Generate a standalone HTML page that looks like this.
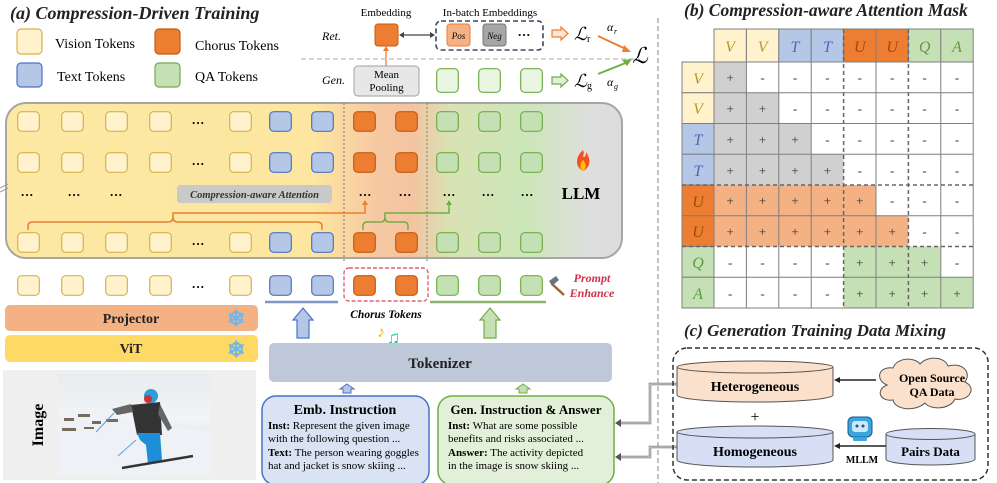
<!DOCTYPE html>
<html><head><meta charset="utf-8"><style>
html,body{margin:0;padding:0;background:#fff;}
svg{display:block;font-family:"Liberation Serif",serif;}
</style></head><body>
<svg width="997" height="483" viewBox="0 0 997 483" xmlns="http://www.w3.org/2000/svg">
<defs>
<linearGradient id="llm" x1="6" x2="622" y1="0" y2="0" gradientUnits="userSpaceOnUse">
<stop offset="0" stop-color="#fde9a3"/><stop offset="0.5" stop-color="#fce6a0"/>
<stop offset="0.6" stop-color="#f7c9a2"/><stop offset="0.66" stop-color="#f3c4a0"/>
<stop offset="0.72" stop-color="#d9e2b4"/><stop offset="0.84" stop-color="#cce6b8"/>
<stop offset="0.95" stop-color="#dedede"/><stop offset="1" stop-color="#dcdcdc"/>
</linearGradient>
<linearGradient id="sky" x1="0" y1="0" x2="0" y2="1"><stop offset="0" stop-color="#e8ecef"/><stop offset="0.45" stop-color="#f2f4f6"/><stop offset="0.6" stop-color="#e4e9ef"/><stop offset="1" stop-color="#d3dbe5"/></linearGradient>
<symbol id="tv" viewBox="0 0 23 21"><rect x="0.7" y="0.7" width="21.6" height="19.6" rx="4" fill="#fff2cc" stroke="#d6b24c" stroke-width="1.2"/></symbol>
<symbol id="tt" viewBox="0 0 23 21"><rect x="0.7" y="0.7" width="21.6" height="19.6" rx="4" fill="#b4c7e7" stroke="#4a72c4" stroke-width="1.2"/></symbol>
<symbol id="tc" viewBox="0 0 23 21"><rect x="0.7" y="0.7" width="21.6" height="19.6" rx="4" fill="#ed7d31" stroke="#c55a11" stroke-width="1.2"/></symbol>
<symbol id="tq" viewBox="0 0 23 21"><rect x="0.7" y="0.7" width="21.6" height="19.6" rx="4" fill="#c5e0b4" stroke="#70ad47" stroke-width="1.2"/></symbol>
<symbol id="tql" viewBox="0 0 23 25"><rect x="0.7" y="0.7" width="21.6" height="23.6" rx="4" fill="#eaf5e2" stroke="#70ad47" stroke-width="1.2"/></symbol>
</defs>

<line x1="658" y1="18" x2="658" y2="483" stroke="#b0b0b0" stroke-width="1.5" stroke-dasharray="5,3"/>

<text x="10" y="19" font-size="18" font-style="italic" font-weight="bold" fill="#222">(a) Compression-Driven Training</text>

<rect x="17" y="29" width="25" height="25" rx="4" fill="#fff2cc" stroke="#d6b24c" stroke-width="1.2"/>
<text x="55" y="48" font-size="14">Vision Tokens</text>
<rect x="17" y="63" width="25" height="24" rx="4" fill="#b4c7e7" stroke="#4a72c4" stroke-width="1.2"/>
<text x="57" y="81" font-size="14">Text Tokens</text>
<rect x="155" y="29" width="25" height="25" rx="4" fill="#ed7d31" stroke="#c55a11" stroke-width="1.2"/>
<text x="195" y="50" font-size="14">Chorus Tokens</text>
<rect x="155" y="63" width="25" height="24" rx="4" fill="#c5e0b4" stroke="#70ad47" stroke-width="1.2"/>
<text x="195" y="81" font-size="14">QA Tokens</text>

<text x="386" y="16" font-size="11" text-anchor="middle">Embedding</text>
<text x="490" y="16" font-size="11" text-anchor="middle">In-batch Embeddings</text>
<text x="322" y="40" font-size="12" font-style="italic">Ret.</text>
<text x="322" y="84" font-size="12" font-style="italic">Gen.</text>
<rect x="375" y="24" width="23" height="22" rx="3" fill="#ed7d31" stroke="#c55a11"/>
<line x1="386" y1="66" x2="386" y2="50" stroke="#ed7d31" stroke-width="1.3"/>
<polygon points="383,51 389,51 386,46" fill="#ed7d31"/>
<line x1="404" y1="35" x2="430" y2="35" stroke="#444" stroke-width="1.3"/>
<polygon points="404,32 404,38 399,35" fill="#444"/><polygon points="430,32 430,38 435,35" fill="#444"/>
<rect x="436" y="21" width="107" height="29" rx="5" fill="none" stroke="#3c4a60" stroke-width="1.6" stroke-dasharray="5,3"/>
<rect x="447" y="24" width="23" height="22" rx="3" fill="#f4b183" stroke="#ed7d31"/>
<text x="458.5" y="39" font-size="9" font-style="italic" text-anchor="middle">Pos</text>
<rect x="483" y="24" width="23" height="22" rx="3" fill="#a6a6a6" stroke="#777"/>
<text x="494.5" y="39" font-size="9" font-style="italic" text-anchor="middle">Neg</text>
<text x="524" y="39" font-size="13" font-weight="bold" text-anchor="middle">···</text>
<polygon points="552,30 561,30 561,27 568,33.5 561,40 561,37 552,37" fill="#fce4d6" stroke="#ed7d31" stroke-width="1.2"/>
<text x="574" y="40" font-size="18" font-style="italic">ℒ</text><text x="587" y="42" font-size="10">r</text>
<text x="607" y="31" font-size="12" font-style="italic">α</text><text x="614" y="34" font-size="8" font-style="italic">r</text>
<line x1="598" y1="36" x2="628" y2="50" stroke="#ed7d31" stroke-width="2"/><polygon points="624,45 631,52 622,52" fill="#ed7d31"/>
<text x="632" y="63" font-size="22" font-style="italic">ℒ</text>
<line x1="301" y1="59" x2="640" y2="59" stroke="#c8c8c8" stroke-width="1.5" stroke-dasharray="5,3"/>
<line x1="598" y1="74" x2="628" y2="62" stroke="#70ad47" stroke-width="2"/><polygon points="622,60 632,59 627,66" fill="#70ad47"/>
<text x="607" y="86" font-size="12" font-style="italic">α</text><text x="614" y="89" font-size="8" font-style="italic">g</text>
<rect x="354" y="66" width="65" height="30" rx="4" fill="#e7e7e7" stroke="#a0a0a0"/>
<text x="386.5" y="78" font-size="11" text-anchor="middle">Mean</text>
<text x="386.5" y="91" font-size="11" text-anchor="middle">Pooling</text>
<use href="#tql" x="436" y="68" width="23" height="25"/>
<use href="#tql" x="478" y="68" width="23" height="25"/>
<use href="#tql" x="520" y="68" width="23" height="25"/>
<polygon points="552,77 561,77 561,74 568,80.5 561,87 561,84 552,84" fill="#e2f0d9" stroke="#70ad47" stroke-width="1.2"/>
<text x="574" y="87" font-size="18" font-style="italic">ℒ</text><text x="587" y="89" font-size="10">g</text>

<rect x="6" y="103" width="616" height="155" rx="20" fill="url(#llm)" stroke="#a6a6a6" stroke-width="2"/>
<line x1="344" y1="103" x2="344" y2="262" stroke="#777" stroke-width="1" stroke-dasharray="2,2"/>
<line x1="427" y1="103" x2="427" y2="262" stroke="#777" stroke-width="1" stroke-dasharray="2,2"/>
<line x1="0" y1="188" x2="8" y2="184" stroke="#999" stroke-width="1"/><line x1="0" y1="192" x2="8" y2="188" stroke="#999" stroke-width="1"/>

<g>
<use href="#tv" x="17" y="111" width="23" height="21"/><use href="#tv" x="61" y="111" width="23" height="21"/><use href="#tv" x="105" y="111" width="23" height="21"/><use href="#tv" x="149" y="111" width="23" height="21"/><use href="#tv" x="229" y="111" width="23" height="21"/><use href="#tt" x="269" y="111" width="23" height="21"/><use href="#tt" x="311" y="111" width="23" height="21"/><use href="#tc" x="353" y="111" width="23" height="21"/><use href="#tc" x="395" y="111" width="23" height="21"/><use href="#tq" x="436" y="111" width="23" height="21"/><use href="#tq" x="478" y="111" width="23" height="21"/><use href="#tq" x="520" y="111" width="23" height="21"/>
<use href="#tv" x="17" y="152" width="23" height="21"/><use href="#tv" x="61" y="152" width="23" height="21"/><use href="#tv" x="105" y="152" width="23" height="21"/><use href="#tv" x="149" y="152" width="23" height="21"/><use href="#tv" x="229" y="152" width="23" height="21"/><use href="#tt" x="269" y="152" width="23" height="21"/><use href="#tt" x="311" y="152" width="23" height="21"/><use href="#tc" x="353" y="152" width="23" height="21"/><use href="#tc" x="395" y="152" width="23" height="21"/><use href="#tq" x="436" y="152" width="23" height="21"/><use href="#tq" x="478" y="152" width="23" height="21"/><use href="#tq" x="520" y="152" width="23" height="21"/>
<use href="#tv" x="17" y="232" width="23" height="21"/><use href="#tv" x="61" y="232" width="23" height="21"/><use href="#tv" x="105" y="232" width="23" height="21"/><use href="#tv" x="149" y="232" width="23" height="21"/><use href="#tv" x="229" y="232" width="23" height="21"/><use href="#tt" x="269" y="232" width="23" height="21"/><use href="#tt" x="311" y="232" width="23" height="21"/><use href="#tc" x="353" y="232" width="23" height="21"/><use href="#tc" x="395" y="232" width="23" height="21"/><use href="#tq" x="436" y="232" width="23" height="21"/><use href="#tq" x="478" y="232" width="23" height="21"/><use href="#tq" x="520" y="232" width="23" height="21"/>
</g>
<g font-size="13" font-weight="bold" text-anchor="middle">
<text x="198" y="127">···</text><text x="198" y="168">···</text><text x="198" y="248">···</text>
<text x="27" y="199">···</text><text x="74" y="199">···</text><text x="116" y="199">···</text>
<text x="365" y="199">···</text><text x="405" y="199">···</text><text x="449" y="199">···</text><text x="488" y="199">···</text><text x="527" y="199">···</text>
</g>
<rect x="177" y="185" width="155" height="18" rx="3" fill="#c9c9c9"/>
<text x="254.5" y="198" font-size="10.5" font-style="italic" font-weight="bold" text-anchor="middle" fill="#333">Compression-aware Attention</text>
<path d="M28,230 L28,226 Q28,222 33,222 L168,222 Q173,222 173,217 Q173,222 178,222 L317,222 Q322,222 322,226 L322,230" fill="none" stroke="#ed7d31" stroke-width="1.5"/>
<path d="M173,217 L173,213 L365,213 L365,204" fill="none" stroke="#ed7d31" stroke-width="1.5"/>
<polygon points="362,205 368,205 365,200" fill="#ed7d31"/>
<path d="M363,230 L363,226 Q363,222 367,222 L381,222 Q385,222 385,217 Q385,222 389,222 L404,222 Q408,222 408,226 L408,230" fill="none" stroke="#70ad47" stroke-width="1.5"/>
<path d="M385,217 L385,213 L449,213 L449,204" fill="none" stroke="#70ad47" stroke-width="1.5"/>
<polygon points="446,205 452,205 449,200" fill="#70ad47"/>
<path d="M583,150 C575,157 575,167 583,171 C591,167 591,159 586,152 C586,157 584,158 583,156 C584,154 584,152 583,150Z" fill="#f4511e"/>
<path d="M583,171 C579,168 580,163 583,160 C586,163 587,168 583,171Z" fill="#ffc107"/>
<text x="581" y="199" font-size="17" font-weight="bold" text-anchor="middle">LLM</text>

<use href="#tv" x="17" y="274" width="23" height="23"/><use href="#tv" x="61" y="274" width="23" height="23"/><use href="#tv" x="105" y="274" width="23" height="23"/><use href="#tv" x="149" y="274" width="23" height="23"/><use href="#tv" x="229" y="274" width="23" height="23"/>
<text x="198" y="291" font-size="13" font-weight="bold" text-anchor="middle">···</text>
<use href="#tt" x="269" y="274" width="23" height="23"/><use href="#tt" x="311" y="274" width="23" height="23"/>
<rect x="344" y="268" width="84" height="33" rx="5" fill="none" stroke="#e06070" stroke-width="1.4" stroke-dasharray="4,2"/>
<use href="#tc" x="353" y="274" width="23" height="23"/><use href="#tc" x="395" y="274" width="23" height="23"/>
<use href="#tq" x="436" y="274" width="23" height="23"/><use href="#tq" x="478" y="274" width="23" height="23"/><use href="#tq" x="520" y="274" width="23" height="23"/>
<line x1="265" y1="302" x2="338" y2="302" stroke="#7f96c4" stroke-width="2.5"/>
<line x1="430" y1="302" x2="546" y2="302" stroke="#8db36e" stroke-width="2.5"/>
<line x1="552" y1="284" x2="564" y2="295" stroke="#a0643c" stroke-width="2.5"/>
<polygon points="549,281 556,276 559,280 552,286" fill="#6a7580"/>
<text x="592" y="282" font-size="12" font-style="italic" font-weight="bold" fill="#d0304a" text-anchor="middle">Prompt</text>
<text x="592" y="297" font-size="12" font-style="italic" font-weight="bold" fill="#d0304a" text-anchor="middle">Enhance</text>

<polygon points="297,338 297,320 293,320 303,308 313,320 309,320 309,338" fill="#b4c7e7" stroke="#4a72c4" stroke-width="1.2"/>
<polygon points="484,338 484,320 480,320 490,308 500,320 496,320 496,338" fill="#c5e0b4" stroke="#70ad47" stroke-width="1.2"/>
<text x="386" y="318" font-size="11.5" font-style="italic" font-weight="bold" text-anchor="middle">Chorus Tokens</text>
<text x="377" y="337" font-size="16" font-weight="bold" fill="#f5b800">♪</text>
<text x="386" y="344" font-size="19" font-weight="bold" fill="#1cc9b0">♫</text>

<rect x="5" y="305" width="253" height="26" rx="5" fill="#f4b183"/>
<text x="131" y="323" font-size="14" font-weight="bold" text-anchor="middle" fill="#222">Projector</text>
<rect x="5" y="335" width="253" height="27" rx="5" fill="#ffd966"/>
<text x="131" y="353" font-size="14" font-weight="bold" text-anchor="middle" fill="#222">ViT</text>
<g fill="#6fb6ea" font-size="22" font-weight="bold"><text x="227" y="326">❄</text><text x="227" y="357">❄</text></g>

<rect x="3" y="370" width="253" height="110" fill="#efefef"/>
<text transform="translate(43,425) rotate(-90)" font-size="16" font-weight="bold" text-anchor="middle">Image</text>
<rect x="58" y="374" width="153" height="102" fill="url(#sky)"/>
<path d="M58,416 L80,410 L100,412 L120,418 L140,425 L180,428 L211,430 L211,476 L58,476Z" fill="#eef1f5"/>
<g fill="#7a6a5a"><rect x="64" y="418" width="10" height="3"/><rect x="78" y="414" width="12" height="3"/><rect x="92" y="421" width="9" height="3"/><rect x="106" y="419" width="12" height="3"/><rect x="62" y="428" width="14" height="3"/><rect x="84" y="427" width="10" height="2"/></g>
<polygon points="131,405 160,402 162,435 137,435" fill="#333"/>
<polygon points="112,409 131,404 133,412 117,415" fill="#666"/>
<polygon points="160,404 172,428 168,431 158,414" fill="#666"/>
<circle cx="151" cy="396" r="7" fill="#2a9fd8"/><circle cx="148" cy="399" r="4" fill="#d03030"/>
<polygon points="137,433 160,433 162,460 148,464 146,445 140,440" fill="#1c8fd8"/>
<line x1="122" y1="468" x2="193" y2="456" stroke="#333" stroke-width="2.5"/>
<line x1="114" y1="413" x2="96" y2="432" stroke="#5aa0d0" stroke-width="1"/>
<line x1="136" y1="440" x2="118" y2="456" stroke="#5aa0d0" stroke-width="1"/>

<rect x="269" y="343" width="343" height="39" rx="5" fill="#bfc8d8"/>
<text x="440" y="368" font-size="15" font-weight="bold" text-anchor="middle" fill="#222">Tokenizer</text>
<polygon points="343,393 343,389 340,389 347,384 354,389 351,389 351,393" fill="#b4c7e7" stroke="#4a72c4" stroke-width="1"/>
<polygon points="519,393 519,389 516,389 523,384 530,389 527,389 527,393" fill="#c5e0b4" stroke="#70ad47" stroke-width="1"/>

<rect x="262" y="396" width="167" height="89" rx="14" fill="#dae3f3" stroke="#4472c4" stroke-width="1.5"/>
<text x="345" y="414" font-size="14" font-weight="bold" text-anchor="middle">Emb. Instruction</text>
<g font-size="11"><text x="268" y="429"><tspan font-weight="bold">Inst:</tspan> Represent the given image</text>
<text x="268" y="442">with the following question ...</text>
<text x="268" y="456"><tspan font-weight="bold">Text:</tspan> The person wearing goggles</text>
<text x="268" y="469">hat and jacket is snow skiing ...</text></g>
<rect x="438" y="396" width="176" height="89" rx="14" fill="#e2f0d9" stroke="#70ad47" stroke-width="1.5"/>
<text x="526" y="414" font-size="13" font-weight="bold" text-anchor="middle">Gen. Instruction &amp; Answer</text>
<g font-size="11"><text x="448" y="429"><tspan font-weight="bold">Inst:</tspan> What are some possible</text>
<text x="448" y="442">benefits and risks associated ...</text>
<text x="448" y="456"><tspan font-weight="bold">Answer:</tspan> The activity depicted</text>
<text x="448" y="469">in the image is snow skiing ...</text></g>
<path d="M677,384 L650,384 L650,423 L620,423" fill="none" stroke="#777" stroke-width="2.5"/>
<path d="M677,384 L650,384 L650,423 L620,423" fill="none" stroke="#fff" stroke-width="0.8"/>
<polygon points="621,419 621,427 615,423" fill="#555"/>
<path d="M677,447 L650,447 L650,457 L620,457" fill="none" stroke="#777" stroke-width="2.5"/>
<path d="M677,447 L650,447 L650,457 L620,457" fill="none" stroke="#fff" stroke-width="0.8"/>
<polygon points="621,453 621,461 615,457" fill="#555"/>

<text x="684" y="16" font-size="17.5" font-style="italic" font-weight="bold" fill="#222">(b) Compression-aware Attention Mask</text>
<g stroke="#7f7f7f" stroke-width="1">
<rect x="714" y="29" width="32.4" height="33" fill="#fff2cc"/><rect x="746.4" y="29" width="32.4" height="33" fill="#fff2cc"/>
<rect x="778.8" y="29" width="32.4" height="33" fill="#b4c7e7"/><rect x="811.2" y="29" width="32.4" height="33" fill="#b4c7e7"/>
<rect x="843.6" y="29" width="32.4" height="33" fill="#ed7d31"/><rect x="876" y="29" width="32.4" height="33" fill="#ed7d31"/>
<rect x="908.4" y="29" width="32.4" height="33" fill="#c5e0b4"/><rect x="940.8" y="29" width="32.4" height="33" fill="#c5e0b4"/>
<rect x="682" y="62" width="32" height="30.75" fill="#fff2cc"/><rect x="682" y="92.75" width="32" height="30.75" fill="#fff2cc"/>
<rect x="682" y="123.5" width="32" height="30.75" fill="#b4c7e7"/><rect x="682" y="154.25" width="32" height="30.75" fill="#b4c7e7"/>
<rect x="682" y="185" width="32" height="30.75" fill="#ed7d31"/><rect x="682" y="215.75" width="32" height="30.75" fill="#ed7d31"/>
<rect x="682" y="246.5" width="32" height="30.75" fill="#c5e0b4"/><rect x="682" y="277.25" width="32" height="30.75" fill="#c5e0b4"/>
</g>
<g stroke="none">
<rect x="714" y="62" width="259.2" height="246" fill="#fff"/>
<rect x="714" y="62" width="32.4" height="30.75" fill="#d0d0d0"/>
<rect x="714" y="92.75" width="64.8" height="30.75" fill="#d0d0d0"/>
<rect x="714" y="123.5" width="97.2" height="30.75" fill="#d0d0d0"/>
<rect x="714" y="154.25" width="129.6" height="30.75" fill="#d0d0d0"/>
<rect x="714" y="185" width="162" height="30.75" fill="#f4b183"/>
<rect x="714" y="215.75" width="194.4" height="30.75" fill="#f4b183"/>
<rect x="843.6" y="246.5" width="97.2" height="30.75" fill="#c5e0b4"/>
<rect x="843.6" y="277.25" width="129.6" height="30.75" fill="#c5e0b4"/>
</g>
<g stroke="#7f7f7f" stroke-width="1" fill="none">
<line x1="746.4" y1="62" x2="746.4" y2="308"/><line x1="778.8" y1="62" x2="778.8" y2="308"/><line x1="811.2" y1="62" x2="811.2" y2="308"/>
<line x1="876" y1="62" x2="876" y2="308"/><line x1="940.8" y1="62" x2="940.8" y2="308"/>
<line x1="714" y1="92.75" x2="973.2" y2="92.75"/><line x1="714" y1="123.5" x2="973.2" y2="123.5"/><line x1="714" y1="154.25" x2="973.2" y2="154.25"/>
<line x1="714" y1="215.75" x2="973.2" y2="215.75"/><line x1="714" y1="277.25" x2="973.2" y2="277.25"/>
<rect x="714" y="62" width="259.2" height="246"/>
<line x1="714" y1="29" x2="714" y2="308"/>
</g>
<g stroke="#666" stroke-width="1.5" stroke-dasharray="4,3">
<line x1="843.6" y1="29" x2="843.6" y2="308"/><line x1="908.4" y1="29" x2="908.4" y2="308"/>
<line x1="682" y1="185" x2="973.2" y2="185"/><line x1="682" y1="246.5" x2="973.2" y2="246.5"/>
</g>
<g font-size="16" font-style="italic" text-anchor="middle">
<text x="730" y="52" fill="#b89a2a">V</text><text x="762.6" y="52" fill="#b89a2a">V</text>
<text x="795" y="52" fill="#4a6ab0">T</text><text x="827.4" y="52" fill="#4a6ab0">T</text>
<text x="859.8" y="52" fill="#9a4a10">U</text><text x="892.2" y="52" fill="#9a4a10">U</text>
<text x="924.6" y="52" fill="#5a9a40">Q</text><text x="957" y="52" fill="#5a9a40">A</text>
<text x="698" y="84" fill="#b89a2a">V</text><text x="698" y="114" fill="#b89a2a">V</text>
<text x="698" y="145" fill="#4a6ab0">T</text><text x="698" y="176" fill="#4a6ab0">T</text>
<text x="698" y="207" fill="#9a4a10">U</text><text x="698" y="237" fill="#9a4a10">U</text>
<text x="698" y="268" fill="#5a9a40">Q</text><text x="698" y="299" fill="#5a9a40">A</text>
</g>
<g font-size="13" text-anchor="middle" fill="#333">
<text x="730.2" y="82">+</text><text x="762.6" y="82">-</text><text x="795" y="82">-</text><text x="827.4" y="82">-</text><text x="859.8" y="82">-</text><text x="892.2" y="82">-</text><text x="924.6" y="82">-</text><text x="957" y="82">-</text>
<text x="730.2" y="113">+</text><text x="762.6" y="113">+</text><text x="795" y="113">-</text><text x="827.4" y="113">-</text><text x="859.8" y="113">-</text><text x="892.2" y="113">-</text><text x="924.6" y="113">-</text><text x="957" y="113">-</text>
<text x="730.2" y="144">+</text><text x="762.6" y="144">+</text><text x="795" y="144">+</text><text x="827.4" y="144">-</text><text x="859.8" y="144">-</text><text x="892.2" y="144">-</text><text x="924.6" y="144">-</text><text x="957" y="144">-</text>
<text x="730.2" y="175">+</text><text x="762.6" y="175">+</text><text x="795" y="175">+</text><text x="827.4" y="175">+</text><text x="859.8" y="175">-</text><text x="892.2" y="175">-</text><text x="924.6" y="175">-</text><text x="957" y="175">-</text>
<text x="730.2" y="205">+</text><text x="762.6" y="205">+</text><text x="795" y="205">+</text><text x="827.4" y="205">+</text><text x="859.8" y="205">+</text><text x="892.2" y="205">-</text><text x="924.6" y="205">-</text><text x="957" y="205">-</text>
<text x="730.2" y="236">+</text><text x="762.6" y="236">+</text><text x="795" y="236">+</text><text x="827.4" y="236">+</text><text x="859.8" y="236">+</text><text x="892.2" y="236">+</text><text x="924.6" y="236">-</text><text x="957" y="236">-</text>
<text x="730.2" y="267">-</text><text x="762.6" y="267">-</text><text x="795" y="267">-</text><text x="827.4" y="267">-</text><text x="859.8" y="267">+</text><text x="892.2" y="267">+</text><text x="924.6" y="267">+</text><text x="957" y="267">-</text>
<text x="730.2" y="298">-</text><text x="762.6" y="298">-</text><text x="795" y="298">-</text><text x="827.4" y="298">-</text><text x="859.8" y="298">+</text><text x="892.2" y="298">+</text><text x="924.6" y="298">+</text><text x="957" y="298">+</text>
</g>

<text x="684" y="336" font-size="17" font-style="italic" font-weight="bold" fill="#222">(c) Generation Training Data Mixing</text>
<rect x="673" y="348" width="315" height="132" rx="14" fill="none" stroke="#333" stroke-width="1.5" stroke-dasharray="5,3"/>
<path d="M677,367 L677,395 A78,7 0 0 0 833,395 L833,367" fill="#fbe0cc" stroke="#555" stroke-width="1"/>
<ellipse cx="755" cy="367" rx="78" ry="6" fill="#fbe0cc" stroke="#555" stroke-width="1"/>
<text x="755" y="391" font-size="14" font-weight="bold" text-anchor="middle">Heterogeneous</text>
<text x="755" y="422" font-size="16" text-anchor="middle">+</text>
<path d="M677,432 L677,460 A78,7 0 0 0 833,460 L833,432" fill="#d6dff5" stroke="#555" stroke-width="1"/>
<ellipse cx="755" cy="432" rx="78" ry="6" fill="#d6dff5" stroke="#555" stroke-width="1"/>
<text x="755" y="456" font-size="14" font-weight="bold" text-anchor="middle">Homogeneous</text>
<path d="M887,385 C875,380 878,366 893,368 C897,357 915,357 920,364 C928,355 945,357 948,366 C962,362 972,372 965,382 C978,388 968,402 955,399 C950,410 930,410 925,403 C915,412 895,410 893,400 C880,402 875,390 887,385Z" fill="#fbe0cc" stroke="#555" stroke-width="1"/>
<text x="932" y="382" font-size="12" font-weight="bold" text-anchor="middle">Open Source</text>
<text x="932" y="396" font-size="12" font-weight="bold" text-anchor="middle">QA Data</text>
<path d="M886,434 L886,459 A44.5,6 0 0 0 975,459 L975,434" fill="#d6dff5" stroke="#555" stroke-width="1"/>
<ellipse cx="930.5" cy="434" rx="44.5" ry="5.5" fill="#d6dff5" stroke="#555" stroke-width="1"/>
<text x="930.5" y="456" font-size="13" font-weight="bold" text-anchor="middle">Pairs Data</text>
<line x1="876" y1="380" x2="840" y2="380" stroke="#222" stroke-width="1.5"/><polygon points="840,377 840,383 834,380" fill="#222"/>
<line x1="886" y1="446" x2="840" y2="446" stroke="#222" stroke-width="1.5"/><polygon points="840,443 840,449 834,446" fill="#222"/>
<rect x="848" y="417" width="24" height="20" rx="5" fill="#3aa5e0" stroke="#1a5a8a"/>
<rect x="852" y="421" width="16" height="11" rx="3" fill="#cde8f8"/>
<circle cx="857" cy="426" r="1.5" fill="#1a5a8a"/><circle cx="863" cy="426" r="1.5" fill="#1a5a8a"/>
<rect x="853" y="437" width="14" height="4" rx="1" fill="#3aa5e0"/>
<text x="862" y="463" font-size="10" font-weight="bold" text-anchor="middle">MLLM</text>
</svg>
</body></html>
